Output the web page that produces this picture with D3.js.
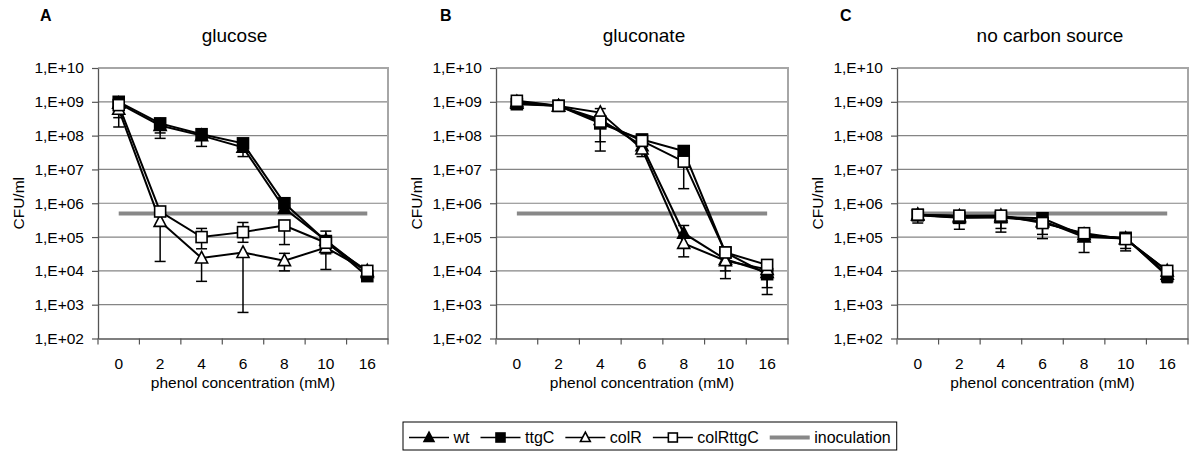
<!DOCTYPE html>
<html><head><meta charset="utf-8">
<script src="https://cdn.jsdelivr.net/npm/d3@7/dist/d3.min.js"></script>
<style>body{margin:0;background:#fff;}svg{display:block;font-family:"Liberation Sans",Arial,sans-serif;}</style>
</head><body>
<svg id="chart" width="1200" height="460"></svg>
<script>
// ---------- data ----------
const categories = ["0", "2", "4", "6", "8", "10", "16"];
const yTickValues = [1e2, 1e3, 1e4, 1e5, 1e6, 1e7, 1e8, 1e9, 1e10];
const seriesNames = ["wt", "ttgC", "colR", "colRttgC"];
const inoculation = 5e5;
const panelLetters = ["A", "B", "C"];
const panelTitles = ["glucose", "gluconate", "no carbon source"];

// A: glucose
const glucose_wt = [9e8, 2.0e8, 1.0e8, 4.5e7, 7e5, 8e4, 9e3];
const glucose_ttgC = [1e9, 2.3e8, 1.1e8, 5.9e7, 1e6, 7.6e4, 7e3];
const glucose_colR = [6e8, 2.9e5, 2.4e4, 3.5e4, 2e4, 4.9e4, 1e4];
const glucose_colRttgC = [8e8, 5.7e5, 1e5, 1.4e5, 2.2e5, 6.8e4, 1e4];
const glucose_wt_lo = [3.4e8, 1.2e8, null, 2.4e7, null, null, null];
const glucose_ttgC_lo = [null, 8.3e7, 4.8e7, null, null, null, null];
const glucose_colR_lo = [1.8e8, 1.9e4, 4.9e3, 5.9e2, 1e4, 1.1e4, null];
const glucose_colRttgC_lo = [null, null, 4.5e4, 7e4, 6e4, 3.2e4, null];
const glucose_wt_hi = [null, null, null, null, null, null, null];
const glucose_ttgC_hi = [null, null, null, null, null, null, null];
const glucose_colR_hi = [null, null, null, null, 3.3e4, null, null];
const glucose_colRttgC_hi = [null, null, 1.8e5, 2.7e5, null, 1.5e5, null];

// B: gluconate
const gluconate_wt = [9e8, 7.5e8, 3e8, 5e7, 1.3e5, 2.2e4, 9e3];
const gluconate_ttgC = [8.5e8, 7.6e8, 2.3e8, 7.7e7, 3.5e7, 3.5e4, 8e3];
const gluconate_colR = [1e9, 7.5e8, 4.8e8, 4e7, 6.5e4, 2e4, 1.1e4];
const gluconate_colRttgC = [1.07e9, 7.6e8, 2.6e8, 7e7, 1.7e7, 3.5e4, 1.5e4];
const gluconate_wt_lo = [null, null, 6.6e7, null, null, 1e4, 3.2e3];
const gluconate_ttgC_lo = [null, null, null, 2.4e7, null, null, null];
const gluconate_colR_lo = [null, null, null, null, 2.6e4, null, null];
const gluconate_colRttgC_lo = [null, null, 3.5e7, null, 2.7e6, 5.9e3, 2e3];
const gluconate_wt_hi = [null, null, null, null, 2.2e5, null, null];
const gluconate_ttgC_hi = [null, null, null, null, null, null, null];
const gluconate_colR_hi = [null, null, 6.3e8, null, null, null, null];
const gluconate_colRttgC_hi = [null, null, null, null, null, null, null];

// C: no carbon source
const nocarbon_wt = [4.5e5, 3.8e5, 3.8e5, 3.0e5, 1.0e5, 9.0e4, 8e3];
const nocarbon_ttgC = [4.4e5, 3.7e5, 3.9e5, 3.6e5, 1.1e5, 9.5e4, 7e3];
const nocarbon_colR = [4.6e5, 4.2e5, 4.3e5, 2.8e5, 1.2e5, 8.8e4, 1e4];
const nocarbon_colRttgC = [4.6e5, 4.3e5, 4.3e5, 2.6e5, 1.3e5, 8.7e4, 1e4];
const nocarbon_wt_lo = [2.6e5, 1.7e5, 1.4e5, 9e4, 3.5e4, 3.9e4, 4.5e3];
const nocarbon_ttgC_lo = [null, null, 1.8e5, 1.2e5, null, 4.6e4, null];
const nocarbon_colR_lo = [null, null, null, null, null, null, null];
const nocarbon_colRttgC_lo = [null, null, null, null, null, null, null];
const nocarbon_wt_hi = [null, null, null, null, null, null, null];
const nocarbon_ttgC_hi = [null, null, null, null, null, null, null];
const nocarbon_colR_hi = [6.5e5, 5.8e5, 5.8e5, null, 1.8e5, 1.2e5, 1.35e4];
const nocarbon_colRttgC_hi = [null, null, null, null, null, null, null];

const panelData = [
  [glucose_wt, glucose_ttgC, glucose_colR, glucose_colRttgC],
  [gluconate_wt, gluconate_ttgC, gluconate_colR, gluconate_colRttgC],
  [nocarbon_wt, nocarbon_ttgC, nocarbon_colR, nocarbon_colRttgC]
];
const panelLo = [
  [glucose_wt_lo, glucose_ttgC_lo, glucose_colR_lo, glucose_colRttgC_lo],
  [gluconate_wt_lo, gluconate_ttgC_lo, gluconate_colR_lo, gluconate_colRttgC_lo],
  [nocarbon_wt_lo, nocarbon_ttgC_lo, nocarbon_colR_lo, nocarbon_colRttgC_lo]
];
const panelHi = [
  [glucose_wt_hi, glucose_ttgC_hi, glucose_colR_hi, glucose_colRttgC_hi],
  [gluconate_wt_hi, gluconate_ttgC_hi, gluconate_colR_hi, gluconate_colRttgC_hi],
  [nocarbon_wt_hi, nocarbon_ttgC_hi, nocarbon_colR_hi, nocarbon_colRttgC_hi]
];

// ---------- layout ----------
const svg = d3.select("#chart");
const panels = [
  {left: 98, right: 388, title: 234.5, letter: 40},
  {left: 496, right: 788, title: 644, letter: 440},
  {left: 897, right: 1188, title: 1050, letter: 840}
];
const plotTop = 68, plotBottom = 338.5;
const tickFont = 15.5;

const markerShape = {
  wt: {type: "tri", fill: "#000"},
  ttgC: {type: "sq", fill: "#000"},
  colR: {type: "tri", fill: "#fff"},
  colRttgC: {type: "sq", fill: "#fff"}
};
function drawMarker(g, name, cx, cy, s) {
  const m = markerShape[name];
  if (m.type === "sq") {
    g.append("rect").attr("x", cx - s / 2).attr("y", cy - s / 2).attr("width", s).attr("height", s)
      .attr("fill", m.fill).attr("stroke", "#000").attr("stroke-width", 1.6);
  } else {
    const h = s * 1.0, w = s * 1.1;
    g.append("path").attr("d", `M${cx},${cy - h * 0.6}L${cx + w / 2},${cy + h * 0.45}L${cx - w / 2},${cy + h * 0.45}Z`)
      .attr("fill", m.fill).attr("stroke", "#000").attr("stroke-width", 1.6).attr("stroke-linejoin", "miter");
  }
}
function fmt(v) {
  const e = Math.round(Math.log10(v));
  return "1,E+" + (e < 10 ? "0" + e : e);
}

panels.forEach((p, pi) => {
  const x = d3.scaleBand().domain(categories).range([p.left, p.right]).padding(0);
  const xc = c => x(c) + x.bandwidth() / 2;
  const y = d3.scaleLog().domain([1e2, 1e10]).range([plotBottom, plotTop]);
  const g = svg.append("g");

  // gridlines
  g.selectAll(".grid").data(yTickValues.slice(1, -1)).enter().append("line")
    .attr("x1", p.left).attr("x2", p.right).attr("y1", d => y(d)).attr("y2", d => y(d))
    .attr("stroke", "#858585").attr("stroke-width", 1.2);
  // top/right border
  g.append("path").attr("d", `M${p.left},${plotTop}H${p.right}V${plotBottom}`)
    .attr("fill", "none").attr("stroke", "#a6a6a6").attr("stroke-width", 2);

  // y axis
  const yAxis = d3.axisLeft(y).tickValues(yTickValues).tickFormat(fmt).tickSizeInner(6).tickSizeOuter(0).tickPadding(8);
  const ya = g.append("g").attr("transform", `translate(${p.left},0)`).call(yAxis);
  ya.select(".domain").attr("stroke", "#555").attr("stroke-width", 1.3);
  ya.selectAll(".tick line").attr("stroke", "#555").attr("stroke-width", 1.2);
  ya.selectAll(".tick text").attr("font-size", tickFont).attr("fill", "#000")
    .attr("font-family", '"Liberation Sans",Arial,sans-serif');

  // x axis
  const xAxis = d3.axisBottom(x).tickSize(0).tickPadding(19);
  const xa = g.append("g").attr("transform", `translate(0,${plotBottom})`).call(xAxis);
  xa.select(".domain").attr("stroke", "#555").attr("stroke-width", 1.3);
  xa.selectAll(".tick text").attr("font-size", tickFont).attr("fill", "#000")
    .attr("font-family", '"Liberation Sans",Arial,sans-serif');
  // tick marks at category boundaries
  const bounds = categories.map(c => x(c)).concat([p.right]);
  g.selectAll(".xt").data(bounds).enter().append("line")
    .attr("x1", d => d).attr("x2", d => d).attr("y1", plotBottom).attr("y2", plotBottom + 6)
    .attr("stroke", "#555").attr("stroke-width", 1.2);

  // labels
  svg.append("text").attr("x", p.letter).attr("y", 21).attr("font-size", 16).attr("font-weight", "bold").text(panelLetters[pi]);
  svg.append("text").attr("x", p.title).attr("y", 42).attr("text-anchor", "middle").attr("font-size", 19).text(panelTitles[pi]);
  svg.append("text").attr("transform", `translate(${p.left - 80},${(plotTop + plotBottom) / 2}) rotate(-90)`)
    .attr("text-anchor", "middle").attr("dominant-baseline", "central").attr("font-size", tickFont).text("CFU/ml");
  svg.append("text").attr("x", (p.left + p.right) / 2).attr("y", 388).attr("text-anchor", "middle")
    .attr("font-size", tickFont).text("phenol concentration (mM)");

  // inoculation
  g.append("line").attr("x1", xc(categories[0])).attr("x2", xc(categories[categories.length - 1]))
    .attr("y1", y(inoculation)).attr("y2", y(inoculation))
    .attr("stroke", "#888").attr("stroke-width", 4);

  // error bars
  const eb = g.append("g").attr("stroke", "#000").attr("stroke-width", 1.5);
  seriesNames.forEach((s, si) => {
    const vals = panelData[pi][si];
    [panelLo[pi][si], panelHi[pi][si]].forEach(arr => {
      arr.forEach((e, i) => {
        if (e == null) return;
        const cx = xc(categories[i]);
        eb.append("line").attr("x1", cx).attr("x2", cx).attr("y1", y(vals[i])).attr("y2", y(e));
        eb.append("line").attr("x1", cx - 5.5).attr("x2", cx + 5.5).attr("y1", y(e)).attr("y2", y(e));
      });
    });
  });

  // lines
  const line = d3.line().x((d, i) => xc(categories[i])).y(d => y(d));
  seriesNames.forEach((s, si) => {
    g.append("path").datum(panelData[pi][si]).attr("d", line)
      .attr("fill", "none").attr("stroke", "#000").attr("stroke-width", 2);
  });
  // markers
  seriesNames.forEach((s, si) => {
    panelData[pi][si].forEach((v, i) => drawMarker(g, s, xc(categories[i]), y(v), 11));
  });
});

// ---------- legend ----------
const lg = svg.append("g");
const legendItems = seriesNames.concat(["inoculation"]);
let lx = 409;
const ly = 437.5;
legendItems.forEach((name, i) => {
  const x0 = lx;
  if (name === "inoculation") {
    lg.append("line").attr("x1", x0).attr("x2", x0 + 40).attr("y1", ly).attr("y2", ly)
      .attr("stroke", "#888").attr("stroke-width", 4);
  } else {
    lg.append("line").attr("x1", x0).attr("x2", x0 + 40).attr("y1", ly).attr("y2", ly)
      .attr("stroke", "#000").attr("stroke-width", 1.6);
    drawMarker(lg, name, x0 + 20, ly, 9);
  }
  const t = lg.append("text").attr("x", x0 + 44.5).attr("y", ly + 5.5).attr("font-size", 16).text(name);
  const w = t.node().getComputedTextLength();
  lx = x0 + 44.5 + w + 11;
});
lg.insert("rect", ":first-child").attr("x", 403).attr("y", 422).attr("width", lx - 11 + 6 - 403).attr("height", 28)
  .attr("fill", "#fff").attr("stroke", "#000").attr("stroke-width", 1);
</script>
</body></html>
